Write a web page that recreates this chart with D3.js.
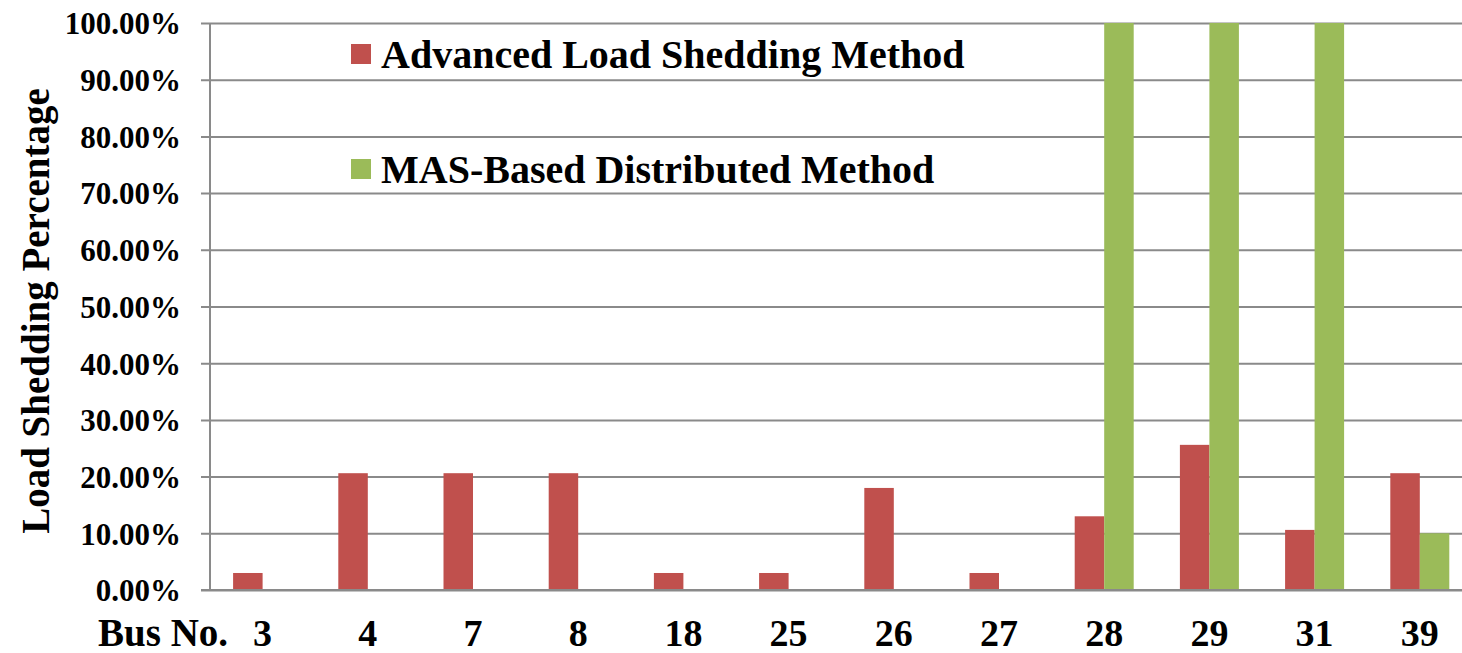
<!DOCTYPE html>
<html>
<head>
<meta charset="utf-8">
<script src="https://cdn.jsdelivr.net/npm/d3@7"></script>
<style>
  html, body { margin: 0; padding: 0; background: #ffffff; }
  svg { display: block; }
</style>
</head>
<body>
<svg id="chart" width="1462" height="653"></svg>
<script>
// Bus numbers on the x axis
const buses = ["3", "4", "7", "8", "18", "25", "26", "27", "28", "29", "31", "39"];
// Share of load shed at each bus (fraction of 1)
const advancedShed = [0.03, 0.206, 0.206, 0.206, 0.03, 0.03, 0.18, 0.03, 0.13, 0.256, 0.106, 0.206];
const masShed      = [0, 0, 0, 0, 0, 0, 0, 0, 1.0, 1.0, 1.0, 0.10];
const seriesNames  = ["Advanced Load Shedding Method", "MAS-Based Distributed Method"];
const seriesColors = ["#C0504D", "#9BBB59"];
const yTicks = [0, 0.1, 0.2, 0.3, 0.4, 0.5, 0.6, 0.7, 0.8, 0.9, 1.0];

const FONT = "'Liberation Serif'";
const svg = d3.select("#chart");
const plot = { left: 210, top: 23, bottom: 590, step: 105.2 };
const plotRight = plot.left + plot.step * buses.length;

const x0 = d3.scaleBand().domain(buses).range([plot.left, plotRight]).paddingInner(0).paddingOuter(0);
const x1 = d3.scaleBand().domain(seriesNames).range([0, x0.bandwidth()]).paddingInner(0).paddingOuter(0.783);
const y = d3.scaleLinear().domain([0, 1]).range([plot.bottom, plot.top]);

const rows = buses.map((b, i) => ({ bus: b, values: [advancedShed[i], masShed[i]] }));

function serifText(sel, size) {
  return sel.attr("font-family", FONT).attr("font-weight", 700)
    .attr("font-size", size).attr("fill", "#000");
}

// Horizontal gridlines with short ticks to the left of the axis
const yAxis = d3.axisLeft(y).tickValues(yTicks).tickFormat(d3.format(".2%"))
  .tickSize(-(1462 - plot.left)).tickPadding(0);
const gy = svg.append("g").attr("transform", `translate(${plot.left},0)`).call(yAxis);
gy.attr("font-family", null).attr("font-size", null);
gy.select(".domain").remove();
gy.selectAll(".tick line").attr("x1", -9).attr("stroke", "#8a8a8a").attr("stroke-width", 2);
serifText(gy.selectAll(".tick text"), 31)
  .attr("x", -29).attr("dy", "0.35em")
  .attr("text-anchor", "end");

// Bars
const groups = svg.append("g").selectAll("g").data(rows).join("g")
  .attr("transform", d => `translate(${x0(d.bus)},0)`);
groups.selectAll("rect").data(d => d.values.map((v, k) => ({ key: seriesNames[k], v, k })))
  .join("rect")
  .attr("x", d => x1(d.key))
  .attr("width", x1.bandwidth())
  .attr("y", d => y(d.v))
  .attr("height", d => y(0) - y(d.v))
  .attr("fill", d => seriesColors[d.k]);

// Baseline and vertical axis line
svg.append("line").attr("x1", plot.left - 9).attr("x2", 1462)
  .attr("y1", y(0)).attr("y2", y(0)).attr("stroke", "#8a8a8a").attr("stroke-width", 2);
svg.append("line").attr("x1", plot.left).attr("x2", plot.left)
  .attr("y1", y(1)).attr("y2", y(0)).attr("stroke", "#8a8a8a").attr("stroke-width", 2);

// Category labels
const xAxis = d3.axisBottom(x0).tickSize(0).tickPadding(0);
const gx = svg.append("g").call(xAxis);
gx.attr("font-family", null).attr("font-size", null);
gx.select(".domain").remove();
serifText(gx.selectAll(".tick text"), 38).attr("y", 646).attr("dy", 0);

serifText(svg.append("text"), 39).attr("x", 98).attr("y", 646).text("Bus No.");

// Y axis title
serifText(svg.append("text"), 39)
  .attr("transform", "translate(49,311) rotate(-90)")
  .attr("text-anchor", "middle")
  .text("Load Shedding Percentage");

// Legend
const legend = svg.append("g");
const legendY = [44, 159];
seriesNames.forEach((name, i) => {
  legend.append("rect").attr("x", 351).attr("y", legendY[i]).attr("width", 20).attr("height", 20)
    .attr("fill", seriesColors[i]);
  serifText(legend.append("text"), 40).attr("x", 381).attr("y", legendY[i] + 24).text(name);
});
</script>
</body>
</html>
